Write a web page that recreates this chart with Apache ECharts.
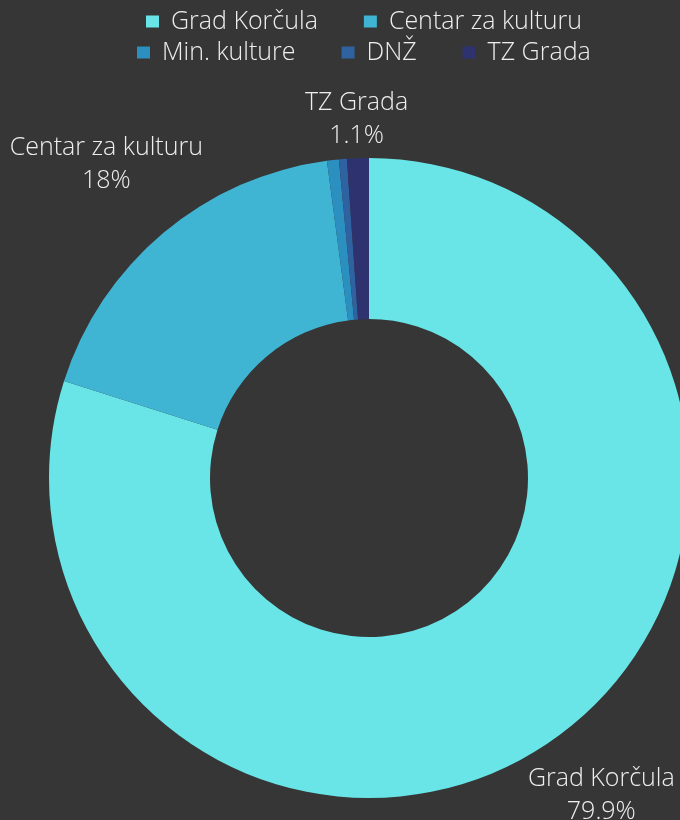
<!DOCTYPE html>
<html>
<head>
<meta charset="utf-8">
<script src="https://cdn.jsdelivr.net/npm/echarts@6/dist/echarts.min.js"></script>
<style>
html,body{margin:0;padding:0;background:#363636;}
#chart{width:680px;height:820px;}
</style>
</head>
<body>
<div id="chart"></div>
<script>
var categories = ['Grad Korčula', 'Centar za kulturu', 'Min. kulture', 'DNŽ', 'TZ Grada'];
var values = [79.9, 18.0, 0.6, 0.4, 1.1];
var colors = ['#69e5e8', '#40b5d3', '#2b8fc0', '#2e62a0', '#2e3370'];
var legendRow1 = ['Grad Korčula', 'Centar za kulturu'];
var legendRow2 = ['Min. kulture', 'DNŽ', 'TZ Grada'];

var CX = 369, CY = 478, R_IN = 159, R_OUT = 320, GAP = 6;
var total = values.reduce(function(a, b){ return a + b; }, 0);

function midDir(idx) {
  var before = 0;
  for (var i = 0; i < idx; i++) before += values[i];
  var frac = (before + values[idx] / 2) / total;
  var th = frac * Math.PI * 2;
  return [Math.sin(th), -Math.cos(th)];
}
function boxDist(px, py, hw, hh) {
  var dx = Math.max(Math.abs(px) - hw, 0);
  var dy = Math.max(Math.abs(py) - hh, 0);
  return Math.sqrt(dx * dx + dy * dy);
}

var chart = echarts.init(document.getElementById('chart'), null, {renderer: 'canvas'});
var txt = '#eeeeee';
var font = 'Open Sans';

var legendCommon = {
  orient: 'horizontal',
  padding: 0,
  itemWidth: 13,
  itemHeight: 12,
  itemGap: 46,
  icon: 'rect',
  textStyle: {color: txt, fontFamily: font, fontWeight: 300, fontSize: 25, padding: [0, 0, 0, 7]}
};

chart.setOption({
  backgroundColor: '#363636',
  color: colors,
  animation: false,
  legend: [
    Object.assign({}, legendCommon, {data: legendRow1, left: 146, top: 9}),
    Object.assign({}, legendCommon, {data: legendRow2, left: 137, top: 40})
  ],
  series: [{
    type: 'pie',
    center: [CX, CY],
    radius: [R_IN, R_OUT],
    startAngle: 90,
    clockwise: true,
    avoidLabelOverlap: false,
    minShowLabelAngle: 3,
    itemStyle: {borderWidth: 0},
    emphasis: {disabled: true},
    label: {
      show: true,
      position: 'outside',
      color: txt,
      fontFamily: font,
      fontWeight: 300,
      fontSize: 25,
      lineHeight: 33,
      align: 'center',
      formatter: function (p) {
        var pct = Math.round(p.value / total * 1000) / 10;
        return p.name + '\n' + pct + '%';
      }
    },
    labelLine: {show: false},
    labelLayout: function (params) {
      var d = midDir(params.dataIndex);
      var hw = params.labelRect.width / 2, hh = params.labelRect.height / 2;
      var lo = 0, hi = 1000;
      for (var k = 0; k < 60; k++) {
        var mid = (lo + hi) / 2;
        if (boxDist(d[0] * mid, d[1] * mid, hw, hh) >= R_OUT + GAP) hi = mid; else lo = mid;
      }
      return {x: CX + d[0] * hi, y: CY + d[1] * hi, align: 'center', verticalAlign: 'middle'};
    },
    data: categories.map(function (c, i) { return {name: c, value: values[i]}; })
  }]
});
</script>
</body>
</html>
